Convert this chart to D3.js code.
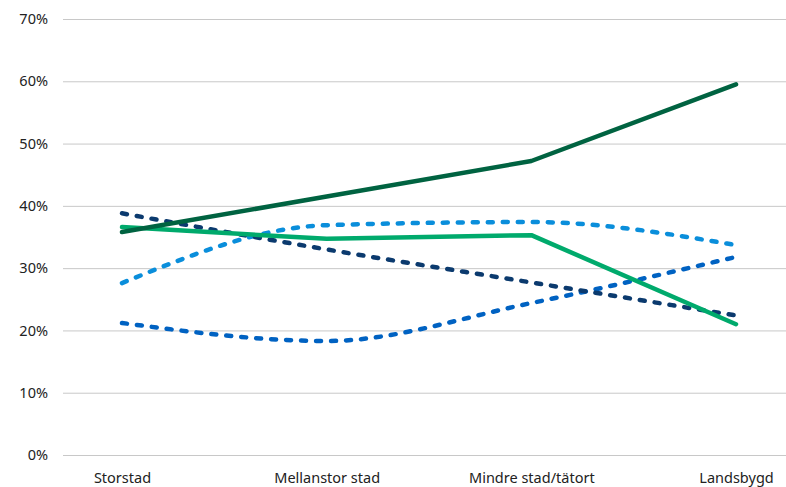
<!DOCTYPE html>
<html>
<head>
<meta charset="utf-8">
<script src="https://cdn.jsdelivr.net/npm/d3@7"></script>
<style>
  html, body { margin: 0; padding: 0; background: #fff; }
  svg { display: block; }
</style>
</head>
<body>
<svg id="chart" width="786" height="487"></svg>
<script>
// Categories along the x axis
const categories = ["Storstad", "Mellanstor stad", "Mindre stad/tätort", "Landsbygd"];

// Series values (percent)
const seriesDarkGreen  = [35.8, 41.5, 47.2, 59.5];
const seriesGreen      = [36.6, 34.7, 35.3, 21.0];
const seriesNavy       = [38.8, 33.0, 27.7, 22.4];
const seriesLightBlue  = [27.6, 36.9, 37.4, 33.7];
const seriesMidBlue    = [21.2, 18.3, 24.4, 31.8];

// Y tick values
const yTicks = [0, 10, 20, 30, 40, 50, 60, 70];

const series = [
  { values: seriesLightBlue, color: "#0a8edb", dashed: true },
  { values: seriesMidBlue,   color: "#0062c2", dashed: true },
  { values: seriesNavy,      color: "#0b3a6e", dashed: true },
  { values: seriesGreen,     color: "#00aa6c", dashed: false },
  { values: seriesDarkGreen, color: "#006341", dashed: false }
];

const FONT = "'Noto Sans', 'Open Sans', sans-serif";

const svg = d3.select("#chart");
const plot = { left: 63, right: 786, top: 19, bottom: 455 };

const x = d3.scalePoint().domain(categories).range([122, 736]);
const y = d3.scaleLinear().domain([0, 70]).range([plot.bottom, plot.top]);

// Horizontal gridlines with percent labels
const yAxis = d3.axisLeft(y)
  .tickValues(yTicks)
  .tickFormat(d => d + "%")
  .tickSize(-(plot.right - plot.left))
  .tickPadding(15);

const gy = svg.append("g")
  .attr("transform", `translate(${plot.left},0)`)
  .call(yAxis)
  .attr("font-family", FONT)
  .attr("font-size", 14.5);
gy.select(".domain").remove();
gy.selectAll(".tick line").attr("stroke", "#c8c8c8").attr("stroke-width", 1);
gy.selectAll(".tick text").attr("fill", "#222");

// Category labels
const xAxis = d3.axisBottom(x).tickSize(0).tickPadding(0);
const gx = svg.append("g")
  .attr("transform", `translate(0,${plot.bottom + 18})`)
  .call(xAxis)
  .attr("font-family", FONT)
  .attr("font-size", 14.5);
gx.select(".domain").remove();
gx.selectAll(".tick text").attr("fill", "#222");

// Lines: dashed series are smoothed, solid series are straight
series.forEach(s => {
  const line = d3.line()
    .x((d, i) => x(categories[i]))
    .y(d => y(d))
    .curve(s.dashed ? d3.curveMonotoneX : d3.curveLinear);
  svg.append("path")
    .datum(s.values)
    .attr("d", line)
    .attr("fill", "none")
    .attr("stroke", s.color)
    .attr("stroke-width", 4.5)
    .attr("stroke-linecap", "round")
    .attr("stroke-linejoin", "round")
    .attr("stroke-dasharray", s.dashed ? "5 10" : null);
});
</script>
</body>
</html>
